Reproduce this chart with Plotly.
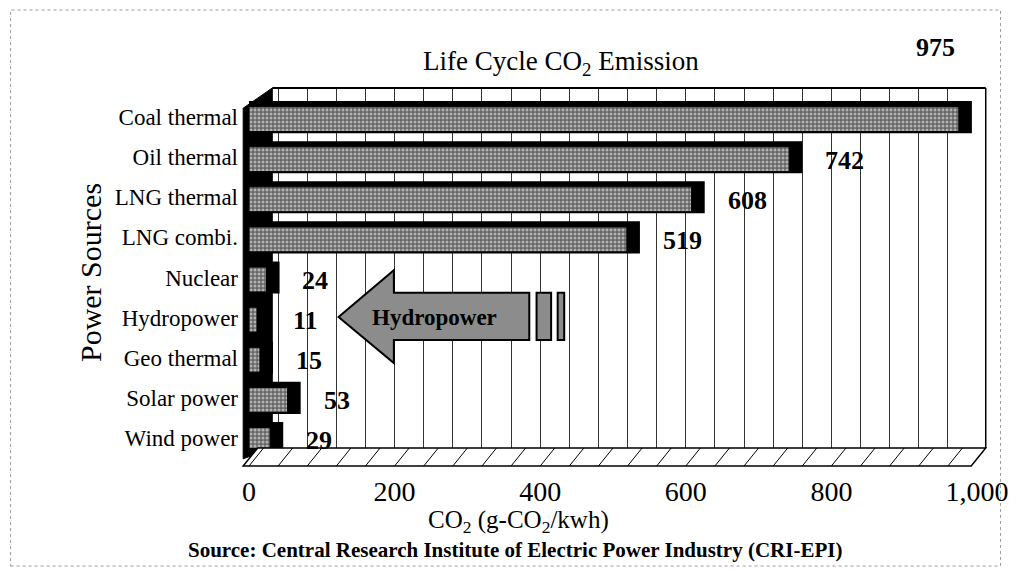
import plotly.graph_objects as go

categories = ["Coal thermal", "Oil thermal", "LNG thermal", "LNG combi.", "Nuclear",
              "Hydropower", "Geo thermal", "Solar power", "Wind power"]
values = [975, 742, 608, 519, 24, 11, 15, 53, 29]
x_tick_vals = [0, 200, 400, 600, 800, 1000]
x_tick_text = ["0", "200", "400", "600", "800", "1,000"]

FONT = "Liberation Serif, Times New Roman, serif"
DEPTH = 18  # 3D depth of bars in data units

fig = go.Figure()

# black "3D" body of the bars
fig.add_trace(go.Bar(
    y=categories, x=[v + DEPTH for v in values], orientation="h",
    width=0.8, marker=dict(color="black", line=dict(width=0)),
    hoverinfo="skip", showlegend=False))

# textured grey front face
fig.add_trace(go.Bar(
    y=categories, x=values, orientation="h",
    width=0.62, offset=-0.26,
    marker=dict(color="#808080",
                pattern=dict(shape=".", fgcolor="white", bgcolor="#656565",
                             size=4, solidity=0.45),
                line=dict(color="black", width=1)),
    showlegend=False))

# plot-area helpers (plot area spans reference pixels x 249..991, y 88..448)
def px(xp):
    return (xp - 249) / 742


def py(yp):
    return (448 - yp) / 360


annotations = []
# value labels
for c, v in zip(categories, values):
    if v == max(values):
        annotations.append(dict(x=v, y=py(48), xref="x", yref="paper", text=str(v),
                                showarrow=False, xanchor="center", yanchor="middle", xshift=-23,
                                font=dict(family=FONT, size=26, color="black", weight="bold")))
    else:
        annotations.append(dict(x=v, y=c, xref="x", yref="y", text=str(v),
                                showarrow=False, xanchor="left", xshift=34, yshift=-3,
                                font=dict(family=FONT, size=26, color="black", weight="bold")))

annotations += [
    dict(text="Life Cycle CO<sub>2</sub> Emission", x=px(567), y=py(63), yanchor="middle",
         xref="paper", yref="paper", showarrow=False,
         font=dict(family=FONT, size=27, color="black")),
    dict(text="Power Sources", x=px(87), y=py(273), xref="paper", yref="paper",
         xanchor="center", yanchor="middle",
         textangle=-90, showarrow=False, font=dict(family=FONT, size=30, color="black")),
    dict(text="CO<sub>2</sub> (g-CO<sub>2</sub>/kwh)", x=px(524), y=py(521), yanchor="middle",
         xref="paper", yref="paper", showarrow=False,
         font=dict(family=FONT, size=25, color="black")),
    dict(text="Source: Central Research Institute of Electric Power Industry (CRI-EPI)",
         x=px(520), y=py(550), yanchor="middle", xref="paper", yref="paper", showarrow=False,
         font=dict(family=FONT, size=21, color="black", weight="bold")),
    dict(text="Hydropower", x=255, y=py(317), xref="x", yref="paper", showarrow=False,
         yanchor="middle",
         font=dict(family=FONT, size=23, color="black", weight="bold")),
]

shapes = []
# left black wall with bevel
shapes.append(dict(type="path", xref="paper", yref="paper", layer="below",
                   path="M -0.008,-0.03 L -0.008,0.944 L 0.032,1.0 L 0.032,0 Z",
                   fillcolor="black", line=dict(color="black", width=1)))
# top edge of the box
shapes.append(dict(type="line", xref="paper", yref="paper", x0=0.032, x1=1.012, y0=1.0, y1=1.0,
                   line=dict(color="black", width=2)))
# right back edge
shapes.append(dict(type="line", xref="paper", yref="paper", x0=1.012, x1=1.012, y0=0.0, y1=1.0,
                   line=dict(color="black", width=1.5)))
# floor (hatched parallelogram)
shapes.append(dict(type="path", xref="paper", yref="paper",
                   path="M -0.008,-0.05 L 0.992,-0.05 L 1.012,0 L 0.012,0 Z",
                   fillcolor="white", line=dict(color="black", width=1.5)))
for g in range(0, 1000, 40):
    gx = g / 1000
    shapes.append(dict(type="line", xref="paper", yref="paper",
                       x0=gx, y0=-0.05, x1=gx + 0.02, y1=0,
                       line=dict(color="black", width=1)))
# Hydropower arrow
shapes.append(dict(type="path", xref="x", yref="paper",
                   path=("M 123,0.364 L 199,0.494 L 199,0.431 L 385,0.431 "
                         "L 385,0.300 L 199,0.300 L 199,0.236 Z"),
                   fillcolor="#8c8c8c", line=dict(color="black", width=2)))
shapes.append(dict(type="rect", xref="x", yref="paper", x0=395, x1=415, y0=0.300, y1=0.431,
                   fillcolor="#8c8c8c", line=dict(color="black", width=2)))
shapes.append(dict(type="rect", xref="x", yref="paper", x0=424, x1=433, y0=0.300, y1=0.431,
                   fillcolor="#8c8c8c", line=dict(color="black", width=2)))
# scan border
shapes.append(dict(type="rect", xref="paper", yref="paper",
                   x0=px(6), x1=px(1015), y0=py(566), y1=py(10),
                   line=dict(color="#9a9a9a", width=1, dash="dot")))

fig.update_layout(
    width=1013, height=562,
    margin=dict(l=241, r=30, t=80, b=122),
    paper_bgcolor="white", plot_bgcolor="white",
    barmode="overlay", bargap=0.2,
    showlegend=False,
    annotations=annotations, shapes=shapes,
    font=dict(family=FONT, color="black"),
    xaxis=dict(range=[0, 1000], tickvals=x_tick_vals, ticktext=x_tick_text,
               tickfont=dict(family=FONT, size=28, color="black"),
               ticks="", ticklabelstandoff=24, ticklabeloverflow="allow",
               showgrid=True, gridcolor="#333", gridwidth=1,
               minor=dict(dtick=40, tick0=0, showgrid=True, gridcolor="#333", gridwidth=1),
               zeroline=False, showline=False),
    yaxis=dict(categoryorder="array", categoryarray=categories,
               range=[8.25, -0.725], tickfont=dict(family=FONT, size=23, color="black"),
               ticks="", ticklabelstandoff=10, showgrid=False, zeroline=False, showline=False),
)

fig.write_html("out.html")
